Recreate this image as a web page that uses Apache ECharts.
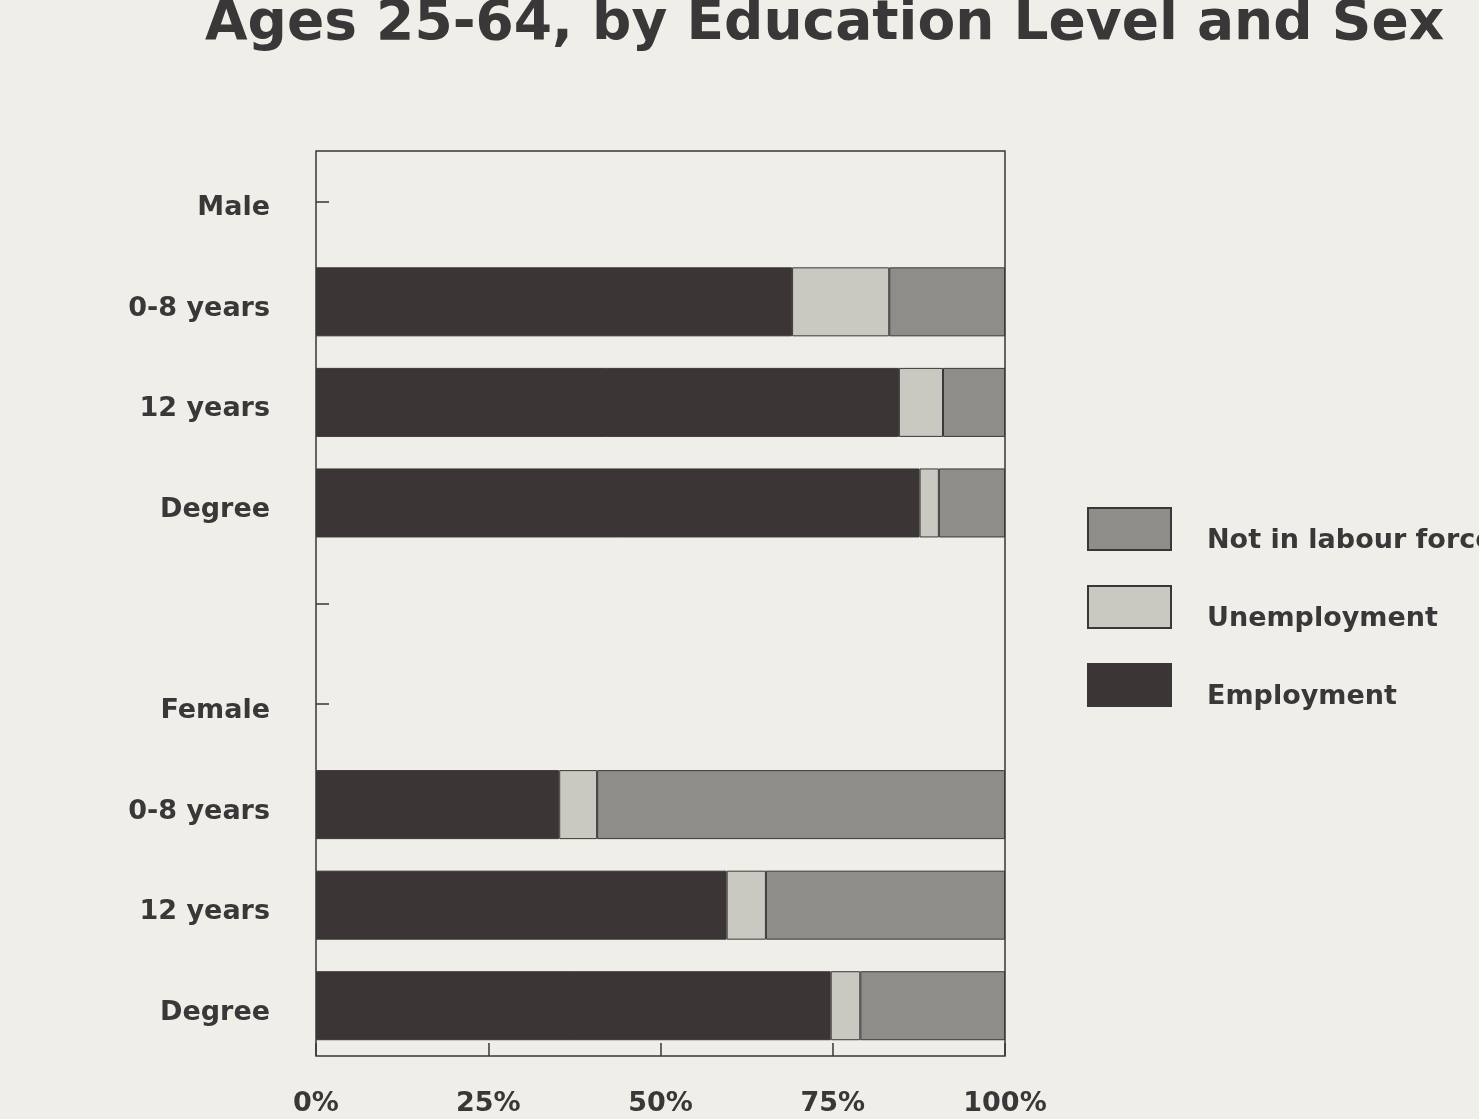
<!DOCTYPE html>
<html>
<head>
<meta charset="utf-8">
<title>Ages 25-64, by Education Level and Sex</title>
<script src="https://cdn.jsdelivr.net/npm/echarts@6/dist/echarts.min.js"></script>
<style>
  html, body { margin: 0; padding: 0; background: #efeee8; }
  #chart { width: 1479px; height: 1119px; }
</style>
</head>
<body>
<div id="chart"></div>
<script>
// Rows from top to bottom; header rows and the spacer row carry no bars.
const rowLabels = ['Male', '0-8 years', '12 years', 'Degree', '', 'Female', '0-8 years', '12 years', 'Degree'];

// Share of each group (%), '-' where a row has no bar.
const employment   = ['-', 69.1, 84.6, 87.6, '-', '-', 35.3, 59.6, 74.7];
const unemployment = ['-', 14.1, 6.4, 2.8, '-', '-', 5.5, 5.7, 4.3];
const notInLabour  = ['-', 16.8, 9.0, 9.6, '-', '-', 59.2, 34.7, 21.0];

const percentTicks = [0, 25, 50, 75, 100];
const tickedRows = [0, 4, 5];

const INK = '#3b3637';
const FONT = '"DejaVu Sans", sans-serif';

const chart = echarts.init(document.getElementById('chart'), null, { renderer: 'canvas' });

const barStyle = (color) => ({
  color: color,
  borderColor: INK,
  borderWidth: 1
});

const labelText = {
  fontFamily: FONT, fontWeight: 'bold', fontSize: 27, color: INK
};

chart.setOption({
  backgroundColor: '#efeee8',
  animation: false,
  title: {
    text: 'Ages 25-64, by Education Level and Sex',
    left: 205,
    top: -3,
    padding: 0,
    textStyle: { fontFamily: FONT, fontWeight: 'bold', fontSize: 55, color: INK }
  },
  legend: {
    data: ['Not in labour force', 'Unemployment', 'Employment'],
    orient: 'vertical',
    left: 1087,
    top: 507,
    padding: 0,
    itemWidth: 83,
    itemHeight: 42,
    itemGap: 30.5,
    icon: 'rect',
    formatter: '{t|{name}}',
    textStyle: Object.assign({}, labelText, {
      rich: { t: Object.assign({}, labelText, { padding: [24, 0, 0, 31] }) }
    })
  },
  grid: {
    left: 316,
    right: 474,
    top: 151,
    bottom: 63,
    show: true,
    backgroundColor: 'transparent',
    borderColor: INK,
    borderWidth: 1.5
  },
  xAxis: {
    type: 'value',
    min: percentTicks[0],
    max: percentTicks[percentTicks.length - 1],
    interval: 25,
    axisLine: { show: false },
    splitLine: { show: false },
    axisTick: { show: true, inside: true, length: 13, lineStyle: { color: INK, width: 1.5 } },
    axisLabel: Object.assign({ margin: 34, formatter: '{value}%' }, labelText)
  },
  yAxis: {
    type: 'category',
    inverse: true,
    data: rowLabels,
    axisLine: { show: false },
    axisTick: {
      show: true,
      inside: true,
      length: 13,
      alignWithLabel: true,
      interval: (index) => tickedRows.indexOf(index) !== -1,
      lineStyle: { color: INK, width: 1.5 }
    },
    axisLabel: Object.assign({
      margin: 46,
      interval: 0,
      formatter: (value) => value ? '{r|' + value + '}' : '',
      rich: { r: Object.assign({}, labelText, { padding: [14, 0, 0, 0] }) }
    }, labelText)
  },
  series: [
    { name: 'Employment', type: 'bar', stack: 'share', barWidth: 69, data: employment, itemStyle: barStyle('#3b3536') },
    { name: 'Unemployment', type: 'bar', stack: 'share', barWidth: 69, data: unemployment, itemStyle: barStyle('#c9c9c2') },
    { name: 'Not in labour force', type: 'bar', stack: 'share', barWidth: 69, data: notInLabour, itemStyle: barStyle('#8e8d89') }
  ]
});
</script>
</body>
</html>
